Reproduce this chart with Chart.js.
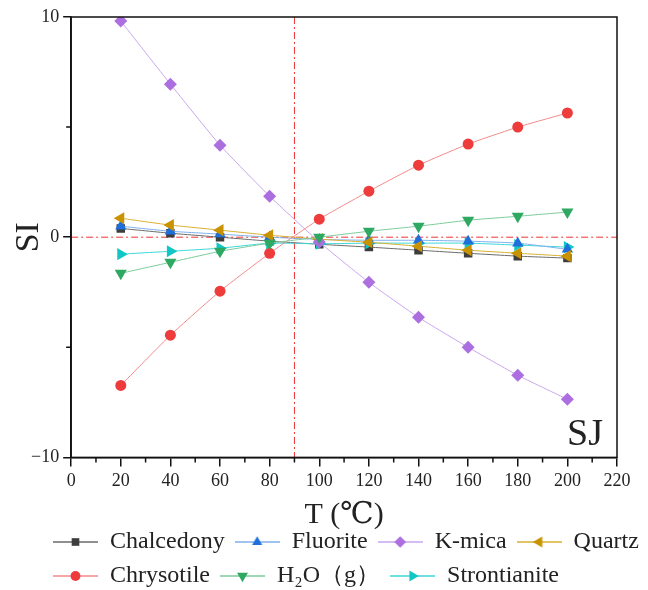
<!DOCTYPE html>
<html>
<head>
<meta charset="utf-8">
<script src="https://cdn.jsdelivr.net/npm/chart.js@4/dist/chart.umd.min.js"></script>
<style>
  html, body { margin: 0; padding: 0; background: #fff; }
  #wrap { width: 648px; height: 590px; }
</style>
</head>
<body>
<div id="wrap"><canvas id="si-chart"></canvas></div>
<script>
const temps = [20, 40, 60, 80, 100, 120, 140, 160, 180, 200];
const chalcedony = [0.40, 0.18, 0.00, -0.18, -0.32, -0.45, -0.59, -0.73, -0.86, -0.95];
const fluorite = [0.50, 0.27, 0.14, 0.00, -0.10, -0.14, -0.14, -0.18, -0.27, -0.55];
const kMica = [9.82, 6.95, 4.18, 1.86, -0.22, -2.05, -3.64, -5.00, -6.27, -7.36];
const quartz = [0.86, 0.55, 0.32, 0.09, -0.09, -0.23, -0.41, -0.59, -0.73, -0.86];
const chrysotile = [-6.73, -4.45, -2.45, -0.73, 0.82, 2.09, 3.27, 4.23, 5.00, 5.64];
const h2o = [-1.64, -1.14, -0.64, -0.27, 0.00, 0.27, 0.50, 0.77, 0.95, 1.14];
const strontianite = [-0.77, -0.64, -0.50, -0.27, -0.30, -0.27, -0.27, -0.27, -0.36, -0.45];
const xTicks = [0, 20, 40, 60, 80, 100, 120, 140, 160, 180, 200, 220];
const yTicks = [-10, 0, 10];
const refT = 90;
const refSI = 0;

const serif = "'Liberation Serif', 'DejaVu Serif', serif";
const ink = "#111";
// legend sits a bit right of and below where Chart.js puts it
const legendShift = { x: 34, y: 8 };

const series = [
    { label: "Chalcedony", data: chalcedony, color: "#3d3d3d", line: "#6a6a6a", style: "rect", rot: 0, r: 6 },
    { label: "Fluorite", data: fluorite, color: "#1e6fdc", line: "#7fb0ee", style: "triangle", rot: 0, r: 6.5 },
    { label: "K-mica", data: kMica, color: "#ac6fe0", line: "#c9a6ee", style: "rectRot", rot: 0, r: 6.5 },
    { label: "Quartz", data: quartz, color: "#c89200", line: "#d8b030", style: "triangle", rot: -90, r: 7 },
    { label: "Chrysotile", data: chrysotile, color: "#ee3b3b", line: "#f28a8a", style: "circle", rot: 0, r: 5.5 },
    { label: "H\u2082O\uff08g\uff09", data: h2o, color: "#2fa862", line: "#7ccb9b", style: "triangle", rot: 180, r: 7 },
    { label: "Strontianite", data: strontianite, color: "#12c6c6", line: "#3fd6d6", style: "triangle", rot: 90, r: 7 }
];

const legendIcon = (s) => {
    const c = document.createElement("canvas");
    c.width = 45;
    c.height = 16;
    const g = c.getContext("2d");
    g.strokeStyle = s.line;
    g.lineWidth = 1.5;
    g.beginPath();
    g.moveTo(0, 8);
    g.lineTo(45, 8);
    g.stroke();
    g.fillStyle = s.color;
    g.strokeStyle = s.color;
    Chart.helpers.drawPoint(g, { pointStyle: s.style, rotation: s.rot, radius: s.r * 0.9, borderWidth: 0 }, 22.5, 8);
    return c;
};

const guides = {
    id: "guides",
    afterLayout(chart) {
        const lg = chart.legend;
        lg.left += legendShift.x;
        lg.right += legendShift.x;
        lg.top += legendShift.y;
        lg.bottom += legendShift.y;
    },
    beforeDatasetsDraw(chart) {
        const { ctx, chartArea, scales } = chart;
        const px = scales.x.getPixelForValue(refT);
        const py = scales.y.getPixelForValue(refSI);
        ctx.save();
        ctx.strokeStyle = "#ee3333";
        ctx.lineWidth = 1;
        ctx.setLineDash([7, 3, 2, 3]);
        ctx.beginPath();
        ctx.moveTo(px, chartArea.top);
        ctx.lineTo(px, chartArea.bottom);
        ctx.moveTo(chartArea.left, py);
        ctx.lineTo(chartArea.right, py);
        ctx.stroke();
        ctx.restore();
    },
    afterDraw(chart) {
        const { ctx, chartArea, scales } = chart;
        ctx.save();
        ctx.strokeStyle = ink;
        ctx.lineWidth = 1.5;
        ctx.strokeRect(chartArea.left, chartArea.top, chartArea.right - chartArea.left, chartArea.bottom - chartArea.top);
        // short minor ticks
        ctx.beginPath();
        scales.x.ticks.filter(t => !xTicks.includes(t.value)).forEach(t => {
            const p = scales.x.getPixelForValue(t.value);
            ctx.moveTo(p, chartArea.bottom);
            ctx.lineTo(p, chartArea.bottom + 5);
        });
        scales.y.ticks.filter(t => !yTicks.includes(t.value)).forEach(t => {
            const p = scales.y.getPixelForValue(t.value);
            ctx.moveTo(chartArea.left, p);
            ctx.lineTo(chartArea.left - 5, p);
        });
        ctx.stroke();
        ctx.fillStyle = "#222";
        ctx.font = "38px " + serif;
        ctx.textAlign = "right";
        ctx.textBaseline = "alphabetic";
        ctx.fillText("SJ", chartArea.right - 14, chartArea.bottom - 12);
        ctx.restore();
    }
};

const ctx = document.getElementById("si-chart").getContext("2d");
const chart = new Chart(ctx, {
    type: "line",
    data: {
        datasets: series.map((s, i) => ({
            label: s.label,
            data: temps.map((t, j) => ({ x: t, y: s.data[j] })),
            borderColor: s.line,
            borderWidth: 1,
            backgroundColor: s.color,
            pointBackgroundColor: s.color,
            pointBorderColor: s.color,
            pointBorderWidth: 0,
            pointStyle: s.style,
            pointRotation: s.rot,
            pointRadius: s.r,
            pointHoverRadius: s.r,
            order: [6, 4, 2, 3, 1, 0, 5][i],
            tension: 0.15
        }))
    },
    options: {
        responsive: true,
        maintainAspectRatio: false,
        animation: false,
        layout: { padding: { left: 9, right: 31, top: 17, bottom: 0 } },
        plugins: {
            tooltip: { enabled: false },
            legend: {
                position: "bottom",
                align: "start",
                labels: {
                    usePointStyle: true,
                    pointStyleWidth: 45,
                    boxHeight: 16,
                    padding: 10,
                    color: "#222",
                    font: { family: serif, size: 24 },
                    generateLabels: (c) => series.map((s, i) => ({
                        text: s.label,
                        pointStyle: legendIcon(s),
                        fillStyle: s.color,
                        strokeStyle: s.color,
                        lineWidth: 0,
                        fontColor: "#222",
                        datasetIndex: i,
                        hidden: false
                    }))
                }
            }
        },
        scales: {
            x: {
                type: "linear",
                min: 0,
                max: 220,
                afterBuildTicks: (axis) => {
                    axis.ticks = [];
                    for (let v = 0; v <= 220; v += 10) axis.ticks.push({ value: v });
                },
                ticks: {
                    autoSkip: false,
                    maxRotation: 0,
                    padding: 4,
                    color: "#222",
                    font: { family: serif, size: 18 },
                    callback: (v) => xTicks.includes(v) ? String(v) : ""
                },
                grid: {
                    drawOnChartArea: false,
                    drawTicks: true,
                    tickLength: 9,
                    lineWidth: 1.5,
                    tickColor: (c) => c.tick && xTicks.includes(c.tick.value) ? ink : "rgba(0,0,0,0)"
                },
                border: { display: true, color: ink, width: 1.5 },
                title: { display: true, text: "T (\u2103)", color: "#222", font: { family: serif, size: 30, lineHeight: 1 }, padding: { top: 4, bottom: -18 } }
            },
            y: {
                min: -10,
                max: 10,
                afterBuildTicks: (axis) => {
                    axis.ticks = [];
                    for (let v = -10; v <= 10; v += 5) axis.ticks.push({ value: v });
                },
                ticks: {
                    autoSkip: false,
                    padding: 4,
                    color: "#222",
                    font: { family: serif, size: 18 },
                    callback: (v) => yTicks.includes(v) ? (v < 0 ? "\u2212" + Math.abs(v) : String(v)) : ""
                },
                grid: {
                    drawOnChartArea: false,
                    drawTicks: true,
                    tickLength: 8,
                    lineWidth: 1.5,
                    tickColor: (c) => c.tick && yTicks.includes(c.tick.value) ? ink : "rgba(0,0,0,0)"
                },
                border: { display: true, color: ink, width: 1.5 },
                title: { display: true, text: "SI", color: "#222", font: { family: serif, size: 34, lineHeight: 1 }, padding: { top: 3, bottom: -19 } }
            }
        }
    },
    plugins: [guides]
});
</script>
</body>
</html>
